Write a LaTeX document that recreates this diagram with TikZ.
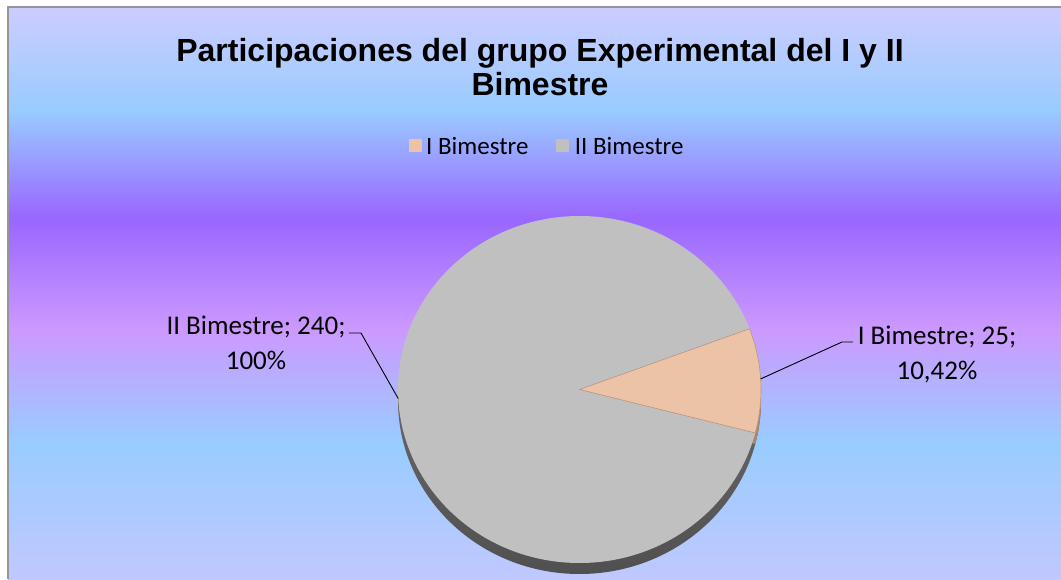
\documentclass[tikz,border=0pt]{standalone}
\usepackage{fontspec}
\setmainfont{Carlito}
\newfontfamily\titlefont{Liberation Sans}
\usetikzlibrary{positioning}

\definecolor{bandA}{RGB}{204,204,255}
\definecolor{bandB}{RGB}{153,204,255}
\definecolor{bandC}{RGB}{153,102,255}
\definecolor{bandD}{RGB}{204,153,255}
\definecolor{bandE}{RGB}{153,204,255}
\definecolor{bandF}{RGB}{192,200,255}
\definecolor{frame}{RGB}{150,150,150}
\definecolor{peach}{RGB}{236,195,166}
\definecolor{peachside}{RGB}{170,135,110}
\definecolor{peachedge}{RGB}{180,150,130}
\definecolor{piegray}{RGB}{192,192,192}
\definecolor{sidelight}{RGB}{125,125,125}
\definecolor{sidedark}{RGB}{80,80,80}

\pgfdeclareverticalshading{daybreak}{100bp}{color(0bp)=(bandF); color(25bp)=(bandF);
  color(36.9bp)=(bandE); color(46.8bp)=(bandD); color(56.5bp)=(bandC);
  color(66bp)=(bandB); color(75bp)=(bandA); color(100bp)=(bandA)}

\begin{document}
\begin{tikzpicture}
        [x=1pt,y=1pt,
         lbl/.style={font=\fontsize{27}{35}\selectfont,align=center,inner sep=0pt},
         legbox/.style={minimum size=13.5pt,inner sep=0pt},
         legtext/.style={font=\fontsize{25}{30}\selectfont,inner sep=0pt},
         leader/.style={line width=0.9pt}]
        \useasboundingbox (0,0) rectangle (1061,579);
        \fill[white] (0,0) rectangle (1061,579);
        \shade[shading=daybreak] (8,0) rectangle (1061,572);
        \draw[frame,line width=1.5pt] (8,0) -- (8,572) -- (1061,572);

        \node[font=\titlefont\bfseries\fontsize{32}{34.5}\selectfont,align=center,inner sep=0pt,anchor=north]
            (title) at (540,541) {Participaciones del grupo Experimental del I y II\\Bimestre};

        \node[legbox,fill=peach]  (boxI) at (415.5,433.5) {};
        \node[legtext] (legI) [right=3.5pt of boxI] {I Bimestre};
        \node[legbox,fill=piegray] (boxII) [right=27pt of legI] {};
        \node[legtext] (legII) [right=5pt of boxII] {II Bimestre};

        % pie
        \coordinate (c) at (579.5,189.5);
        \coordinate (cs) at (579.5,178.5);
        \shade[top color=sidelight,bottom color=sidedark] (cs) ellipse [x radius=181.5pt,y radius=173.5pt];
        \fill[peachside] (cs) -- ++(-14.5:181.5pt and 173.5pt)
            arc[start angle=-14.5,end angle=20.5,x radius=181.5pt,y radius=173.5pt] -- cycle;
        \fill[piegray] (c) ellipse [x radius=181.5pt,y radius=173.5pt];
        \filldraw[fill=peach,draw=peachedge,line width=0.6pt] (c) -- ++(-14.5:181.5pt and 173.5pt)
            arc[start angle=-14.5,end angle=20.5,x radius=181.5pt,y radius=173.5pt] -- cycle;

        % labels
        \node[lbl,anchor=north] (lblII) at (256,263) {II Bimestre; 240;\\100\%};
        \node[lbl,anchor=north] (lblI) at (937,252.9) {I Bimestre; 25;\\10,42\%};

        \path (c) ++(183:181.5pt and 173.5pt) coordinate (pII);
        \path (c) ++(3.5:181.5pt and 173.5pt) coordinate (pI);
        \coordinate (tII) at (349,246);
        \coordinate (bII) at (361,246);
        \coordinate (bI) at (842,237);
        \coordinate (tI) at (853,237);
        \draw[leader] (tII) -- (bII) -- (pII);
        \draw[leader] (pI) -- (bI) -- (tI);
\end{tikzpicture}
\end{document}
